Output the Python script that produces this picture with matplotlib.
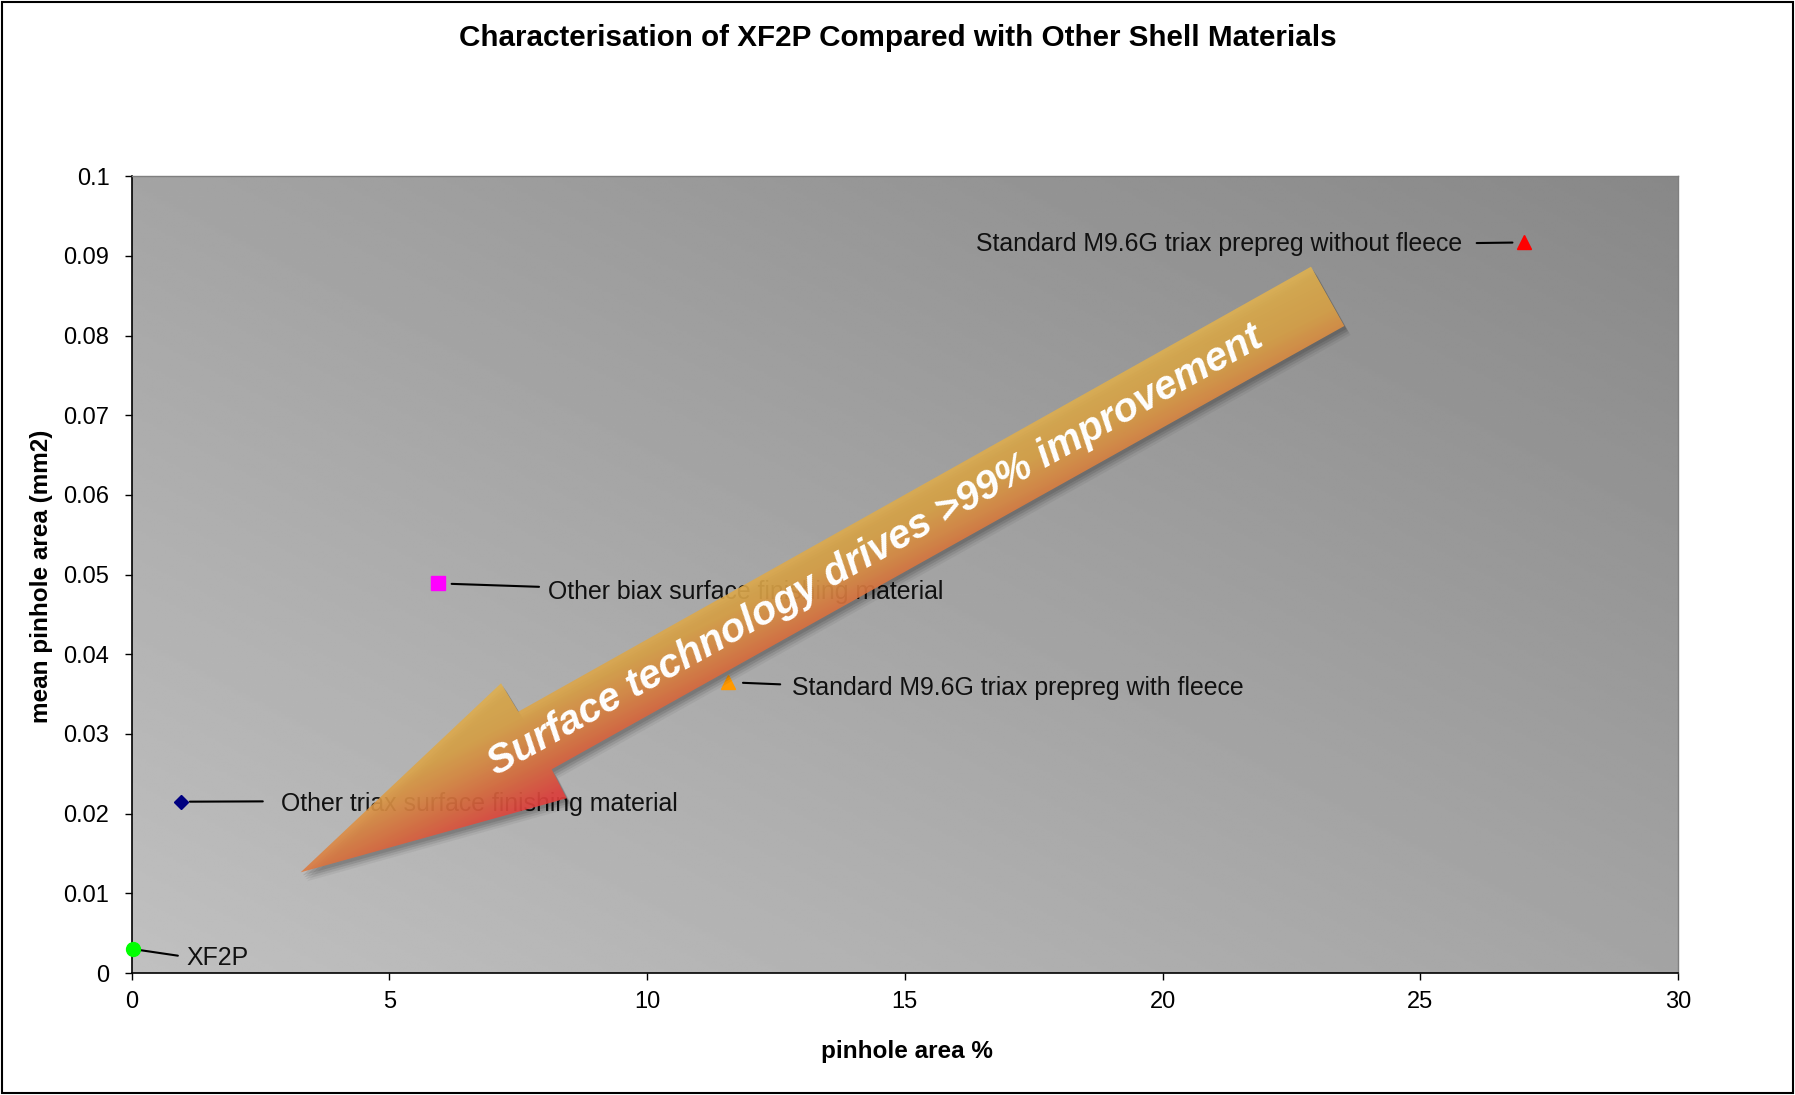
import numpy as np
import matplotlib
matplotlib.use('Agg')
import matplotlib.pyplot as plt
from matplotlib.patches import Polygon, Rectangle
from matplotlib.colors import LinearSegmentedColormap

plt.rcParams['font.family'] = ['Liberation Sans', 'DejaVu Sans']

# data
materials = ['XF2P',
             'Other triax surface finishing material',
             'Other biax surface finishing material',
             'Standard M9.6G triax prepreg with fleece',
             'Standard M9.6G triax prepreg without fleece']
pinhole_pct = [0.03, 0.95, 5.95, 11.57, 27.02]
mean_area = [0.003, 0.0215, 0.0489, 0.0365, 0.0917]
x_ticks = [0, 5, 10, 15, 20, 25, 30]
y_ticks = [0, 0.01, 0.02, 0.03, 0.04, 0.05, 0.06, 0.07, 0.08, 0.09, 0.1]
y_ticklabels = ['0', '0.01', '0.02', '0.03', '0.04', '0.05', '0.06',
                '0.07', '0.08', '0.09', '0.1']

title = 'Characterisation of XF2P Compared with Other Shell Materials'
arrow_text = 'Surface technology drives >99% improvement'

# marker styles per material
markers = ['o', 'D', 's', '^', '^']
colors = ['#00ff00', '#000080', '#ff00ff', '#ff9900', '#ff0000']
msizes = [10, 7, 10, 9.5, 9.5]
# label offsets (pixels), leader shrink (points) near text / near marker,
# vertical attach point of the leader on the text box
offsets = [(53, -9), (100, -2), (110, -9), (64, -5.5), (-62, -2)]
shrinks = [(4, 4.3), (10.8, 6.7), (4.7, 9.6), (6.5, 10.8), (8.3, 8.6)]
attach = [0.55, 0.6, 0.72, 0.62, 0.55]

W, H = 1795, 1095
fig = plt.figure(figsize=(W / 100, H / 100), dpi=100)
fig.patch.set_facecolor('white')
ax = fig.add_axes([131.6 / W, 1 - 973 / H, 1546.4 / W, 796.7 / H])

# plot area gradient: light bottom-left, dark top-right
xx, yy = np.meshgrid(np.linspace(0, 1, 400), np.linspace(1, 0, 300))
g = (192 - 28 * (xx + yy)) / 255
ax.imshow(g, cmap='gray', vmin=0, vmax=1, extent=[0, 1, 0, 1],
          transform=ax.transAxes, aspect='auto', zorder=0,
          interpolation='bilinear')

for i, name in enumerate(materials):
    ax.plot(pinhole_pct[i], mean_area[i], marker=markers[i], color=colors[i],
            ms=msizes[i], ls='none', clip_on=False, zorder=4)
    dx, dy = offsets[i]
    ha = 'left' if dx > 0 else 'right'
    ax.annotate(name, xy=(pinhole_pct[i], mean_area[i]), xytext=(dx, dy),
                textcoords='offset pixels', ha=ha, va='center', fontsize=17.9,
                color='#111111', zorder=3,
                arrowprops=dict(arrowstyle='-', color='black', lw=1.5,
                                shrinkA=shrinks[i][0], shrinkB=shrinks[i][1],
                                relpos=(0 if dx > 0 else 1, attach[i])))

ax.set_xlim(0, 30)
ax.set_ylim(0, 0.1)
ax.set_xticks(x_ticks)
ax.set_yticks(y_ticks)
ax.set_yticklabels(y_ticklabels)
ax.tick_params(direction='out', length=5, width=1, labelsize=17, colors='black')
ax.tick_params(axis='y', pad=11)
ax.tick_params(axis='x', pad=8)
for s in ['left', 'bottom']:
    ax.spines[s].set_color('black')
    ax.spines[s].set_linewidth(1.2)
for s in ['top', 'right']:
    ax.spines[s].set_color('#7f7f7f')
    ax.spines[s].set_linewidth(1.0)

ax.set_xlabel('pinhole area %', fontsize=17.5, fontweight='bold')
ax.xaxis.set_label_coords(0.5014, -0.0988)
ax.xaxis.label.set_va('center')
ax.set_ylabel('mean pinhole area (mm2)', fontsize=17.5, fontweight='bold')
ax.yaxis.set_label_coords(-0.0581, 0.4977)
ax.yaxis.label.set_va('center')

fig.text(898 / W, 1 - 38 / H, title, ha='center', va='center',
         fontsize=21.3, fontweight='bold')

# overlay in pixel coordinates for the big arrow
ov = fig.add_axes([0, 0, 1, 1])
ov.set_xlim(0, W)
ov.set_ylim(H, 0)
ov.axis('off')

arrow_pts = np.array([[1311, 266.7], [1344.3, 326], [551.7, 769.3],
                      [566.7, 798.3], [300.7, 872.3], [501, 683.3],
                      [518.3, 711.7]])

# soft drop shadow
for k, a in [(3, 0.10), (5, 0.10), (7, 0.08), (9, 0.05)]:
    ov.add_patch(Polygon(arrow_pts + [k * 0.7, k], closed=True,
                         facecolor='black', edgecolor='none', alpha=a, zorder=1))

tail_c = (arrow_pts[0] + arrow_pts[1]) / 2
tip = arrow_pts[4]
length = np.hypot(*(tip - tail_c))
u = (tip - tail_c) / length
n = np.array([-u[1], u[0]])
if n[1] < 0:
    n = -n

x0, x1, y0, y1 = 290, 1360, 255, 885
gx, gy = np.meshgrid(np.arange(x0, x1) + 0.5, np.arange(y0, y1) + 0.5)
rel_x, rel_y = gx - tail_c[0], gy - tail_c[1]
s = rel_x * u[0] + rel_y * u[1]
p = rel_x * n[0] + rel_y * n[1]
v = p / 66 + 0.8 * s / length
vmin, vmax = -0.6, 1.5
stops = [(-0.6, '#e0b452'), (0.2, '#dca448'), (0.6, '#dc8a44'),
         (1.0, '#db6a3e'), (1.5, '#e2403e')]
cmap = LinearSegmentedColormap.from_list(
    'arr', [((t - vmin) / (vmax - vmin), c) for t, c in stops])
vn = np.clip((v - vmin) / (vmax - vmin), 0, 1)
rgba = cmap(vn)
rgba[..., 3] = 0.9
poly = Polygon(arrow_pts, closed=True, facecolor='none', edgecolor='none',
               transform=ov.transData)
ov.add_patch(poly)
im = ov.imshow(rgba, extent=[x0, x1, y1, y0], origin='upper', aspect='auto',
               interpolation='bilinear', zorder=2)
im.set_clip_path(poly)
ov.set_xlim(0, W)
ov.set_ylim(H, 0)

tc = tail_c + u * 519
angle = np.degrees(np.arctan2(u[1], -u[0]))
ov.text(tc[0], tc[1], arrow_text, color='white', fontsize=29,
        fontweight='bold', fontstyle='italic', rotation=angle,
        rotation_mode='anchor', ha='center', va='center', zorder=3)

fig.patches.append(Rectangle((2 / W, 2 / H), 1791 / W, 1091 / H,
                             transform=fig.transFigure, fill=False,
                             edgecolor='black', lw=1.5))

fig.savefig('out.png', dpi=100)
